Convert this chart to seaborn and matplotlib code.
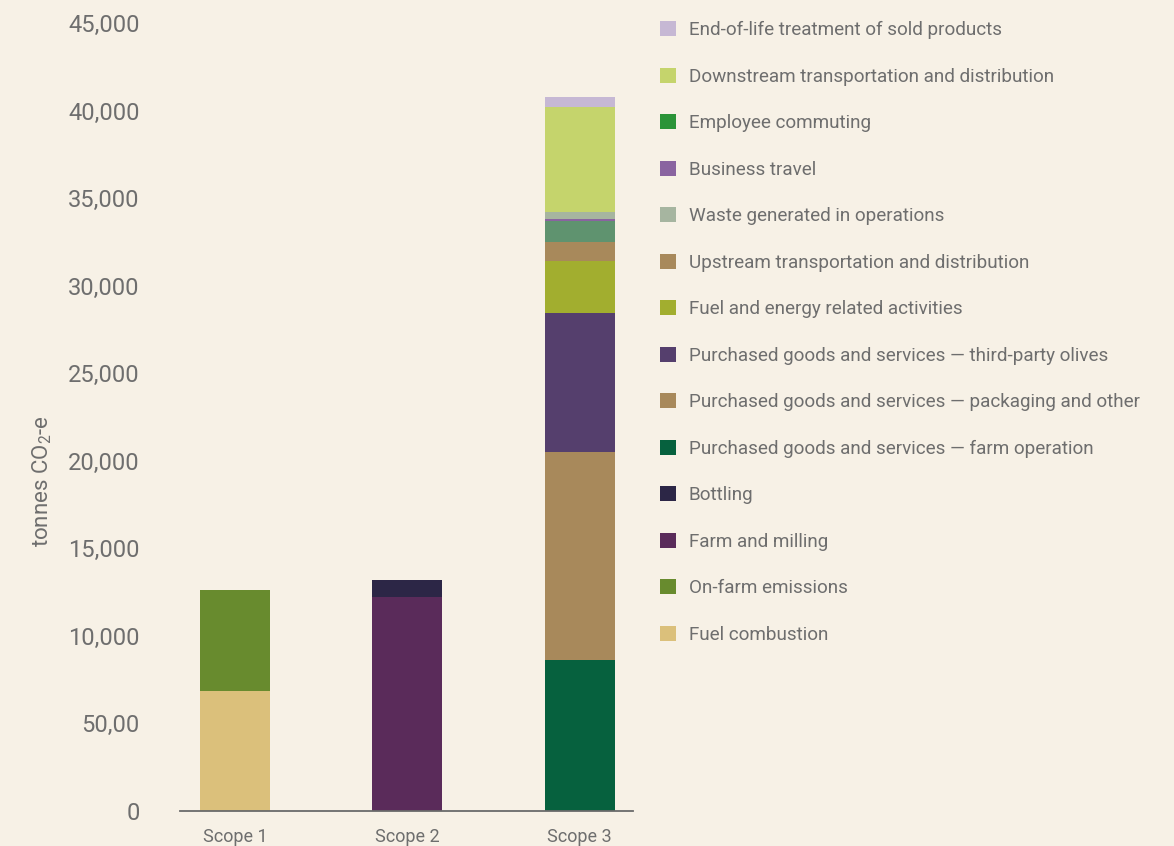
import matplotlib
matplotlib.use("Agg")
import matplotlib.pyplot as plt
import seaborn as sns
import pandas as pd
from matplotlib.patches import Patch

scopes = ["Scope 1", "Scope 2", "Scope 3"]

# Emission sources per scope, listed bottom to top as they are stacked
scope1_categories = ["Fuel combustion", "On-farm emissions"]
scope1_values = [6850, 5770]

scope2_categories = ["Farm and milling", "Bottling"]
scope2_values = [12220, 970]

scope3_categories = [
    "Purchased goods and services \u2014 farm operation",
    "Purchased goods and services \u2014 packaging and other",
    "Purchased goods and services \u2014 third-party olives",
    "Fuel and energy related activities",
    "Upstream transportation and distribution",
    "Employee commuting",
    "Business travel",
    "Waste generated in operations",
    "Downstream transportation and distribution",
    "End-of-life treatment of sold products",
]
scope3_values = [8620, 11880, 7940, 2970, 1090, 1200, 115, 400, 6000, 570]

legend_order = [
    "End-of-life treatment of sold products",
    "Downstream transportation and distribution",
    "Employee commuting",
    "Business travel",
    "Waste generated in operations",
    "Upstream transportation and distribution",
    "Fuel and energy related activities",
    "Purchased goods and services \u2014 third-party olives",
    "Purchased goods and services \u2014 packaging and other",
    "Purchased goods and services \u2014 farm operation",
    "Bottling",
    "Farm and milling",
    "On-farm emissions",
    "Fuel combustion",
]

y_ticks = [0, 5000, 10000, 15000, 20000, 25000, 30000, 35000, 40000, 45000]
y_tick_labels = ["0", "50,00", "10,000", "15,000", "20,000", "25,000",
                 "30,000", "35,000", "40,000", "45,000"]

bar_colors = {
    "Fuel combustion": "#dbc07b",
    "On-farm emissions": "#688b2e",
    "Farm and milling": "#5a2b5a",
    "Bottling": "#2c2646",
    "Purchased goods and services \u2014 farm operation": "#06613e",
    "Purchased goods and services \u2014 packaging and other": "#a8895b",
    "Purchased goods and services \u2014 third-party olives": "#553f6d",
    "Fuel and energy related activities": "#a2ae2f",
    "Upstream transportation and distribution": "#a8895b",
    "Employee commuting": "#5f936f",
    "Business travel": "#8a64a0",
    "Waste generated in operations": "#a6b5a0",
    "Downstream transportation and distribution": "#c5d46c",
    "End-of-life treatment of sold products": "#c6b8d4",
}
legend_colors = dict(bar_colors)
legend_colors["Employee commuting"] = "#2b9438"

BG = "#f7f1e6"
TEXT = "#6e6e6e"

rows = []
for scope, cats, vals in [("Scope 1", scope1_categories, scope1_values),
                          ("Scope 2", scope2_categories, scope2_values),
                          ("Scope 3", scope3_categories, scope3_values)]:
    running = 0
    for c, v in zip(cats, vals):
        running += v
        rows.append({"scope": scope, "category": c, "value": v, "top": running})
df = pd.DataFrame(rows)

sns.set_theme(style="white")
plt.rcParams["font.family"] = ["Roboto", "DejaVu Sans"]
plt.rcParams["mathtext.default"] = "regular"

fig = plt.figure(figsize=(11.74, 8.46), dpi=100, facecolor=BG)
ax = fig.add_axes([180 / 1174, 1 - 811 / 846, 453 / 1174, 788 / 846])
ax.set_facecolor(BG)

# Stack by overdrawing cumulative heights, tallest first
for _, r in df.sort_values("top", ascending=False).iterrows():
    sns.barplot(data=pd.DataFrame([r]), x="scope", y="top", order=scopes,
                color=bar_colors[r["category"]], saturation=1, width=0.406,
                linewidth=0, errorbar=None, ax=ax)

ax.set_xlim(-0.32, 2.31)
ax.set_ylim(0, 45000)
ax.set_yticks(y_ticks, y_tick_labels)
ax.set_xlabel("")
ax.set_ylabel("tonnes CO$_2$-e", fontsize=16, color=TEXT, va="center")
ax.yaxis.set_label_coords(-0.305, (811 - 481) / 788)

ax.tick_params(axis="y", length=0, pad=29, labelsize=17, labelcolor=TEXT)
ax.tick_params(axis="x", length=0, pad=12, labelsize=13, labelcolor=TEXT)

for s in ["left", "top", "right"]:
    ax.spines[s].set_visible(False)
ax.spines["bottom"].set_color("#6a6a6a")
ax.spines["bottom"].set_linewidth(1.3)

handles = [Patch(facecolor=legend_colors[c], edgecolor="none", label=c)
           for c in legend_order]
fig.legend(handles=handles, loc="upper left",
           bbox_to_anchor=(660 / 1174, 1 - 21 / 846),
           bbox_transform=fig.transFigure, frameon=False,
           borderpad=0, borderaxespad=0, fontsize=13.6,
           handlelength=0.85, handleheight=0.85, handletextpad=0.68,
           labelspacing=1.505, labelcolor=TEXT)

fig.savefig("out.png", dpi=100, facecolor=BG)
